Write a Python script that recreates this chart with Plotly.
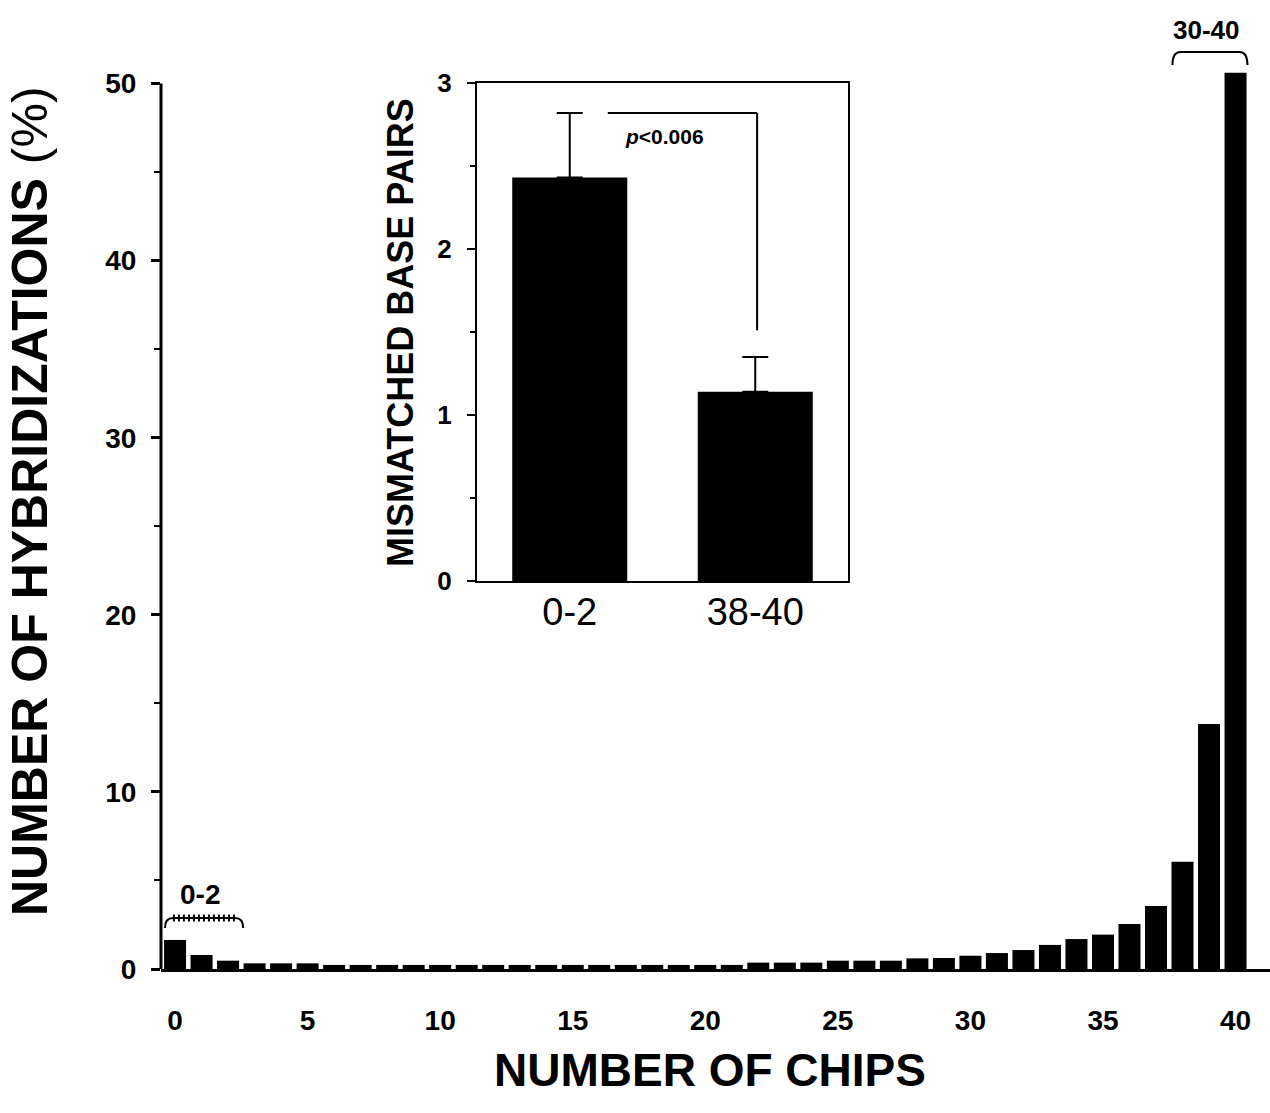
import plotly.graph_objects as go

# ---------------- data ----------------
chips = list(range(41))
hybrid_pct = [1.64, 0.79, 0.47, 0.32, 0.32, 0.32,
              0.23, 0.23, 0.23, 0.23, 0.23, 0.23, 0.23, 0.23,
              0.23, 0.23, 0.23, 0.23, 0.23, 0.23, 0.23, 0.23,
              0.36, 0.36, 0.36, 0.47, 0.47, 0.47, 0.60, 0.62,
              0.75, 0.90, 1.07, 1.36, 1.69, 1.94, 2.54, 3.56,
              6.06, 13.84, 50.6]
x_ticks = [0, 5, 10, 15, 20, 25, 30, 35, 40]
y_ticks = [0, 10, 20, 30, 40, 50]
y_minor = [5, 15, 25, 35, 45]

low_group = [0, 1, 2]
high_group = [38, 39, 40]
low_label = "0-2"
high_label = "30-40"

inset_groups = ["0-2", "38-40"]
mismatch_mean = [2.43, 1.14]
mismatch_err = [0.39, 0.21]
inset_ticks = [0, 1, 2, 3]
inset_minor = [0.5, 1.5, 2.5]
p_text = "<b><i>p</i>&lt;0.006</b>"
bracket_bottom = 1.51

NARROW = "Liberation Sans Narrow, Liberation Sans, Arial"
SANS = "Liberation Sans, Arial, Helvetica"

fig = go.Figure()
fig.add_trace(go.Bar(x=chips, y=hybrid_pct, width=0.83,
                     marker=dict(color="black", line=dict(width=0)),
                     xaxis="x", yaxis="y", hoverinfo="x+y"))
fig.add_trace(go.Bar(x=inset_groups, y=mismatch_mean, width=0.62,
                     marker=dict(color="black", line=dict(width=0)),
                     error_y=dict(type="data", array=mismatch_err,
                                  symmetric=False, color="black", thickness=2, width=13),
                     xaxis="x2", yaxis="y2"))

shapes = []
shapes.append(dict(type="line", xref="paper", yref="y", x0=0, x1=0, y0=0, y1=50,
                   line=dict(color="black", width=3)))

def brace(xa, xb, ytop, ybot, r):
    return f"M {xa},{ybot} Q {xa},{ytop} {xa + r},{ytop} L {xb - r},{ytop} Q {xb},{ytop} {xb},{ybot}"

lx0, lx1 = low_group[0] - 0.38, low_group[-1] + 0.57
shapes.append(dict(type="path", xref="x", yref="y",
                   path=brace(lx0, lx1, 2.88, 2.31, 0.3),
                   line=dict(color="black", width=2)))
shapes.append(dict(type="line", xref="x", yref="y", x0=lx0 + 0.3, x1=lx1 - 0.3, y0=2.88, y1=2.88,
                   line=dict(color="black", width=7, dash="2px,3px")))
hx0, hx1 = high_group[0] - 0.38, high_group[-1] + 0.45
shapes.append(dict(type="path", xref="x", yref="y",
                   path=brace(hx0, hx1, 51.78, 51.04, 0.3),
                   line=dict(color="black", width=2)))

top_y = mismatch_mean[0] + mismatch_err[0]
shapes.append(dict(type="line", xref="x2", yref="y2", x0=0.205, x1=1.01, y0=top_y, y1=top_y,
                   line=dict(color="black", width=2)))
shapes.append(dict(type="line", xref="x2", yref="y2", x0=1.01, x1=1.01, y0=top_y, y1=bracket_bottom,
                   line=dict(color="black", width=2)))

annotations = [
    dict(text="<b>NUMBER OF CHIPS</b>", xref="paper", yref="paper", x=(710 - 161) / 1109,
         y=(969 - 1070) / 969, xanchor="center", yanchor="middle", showarrow=False,
         font=dict(family=SANS, size=46, color="black")),
    dict(text="<b>NUMBER OF HYBRIDIZATIONS</b> (%)", xref="paper", yref="paper",
         x=(30 - 161) / 1109, y=(969 - 501) / 969, textangle=-90,
         xanchor="center", yanchor="middle", showarrow=False,
         font=dict(family=SANS, size=50, color="black")),
    dict(text="<b>MISMATCHED BASE PAIRS</b>", xref="paper", yref="paper",
         x=(400 - 161) / 1109, y=(969 - 333) / 969, textangle=-90,
         xanchor="center", yanchor="middle", showarrow=False,
         font=dict(family=SANS, size=36, color="black")),
    dict(text=f"<b>{low_label}</b>", xref="x", yref="y", x=0.94, y=4.18,
         showarrow=False, font=dict(family=NARROW, size=28, color="black")),
    dict(text=f"<b>{high_label}</b>", xref="x", yref="y", x=38.9, y=53.0,
         showarrow=False, font=dict(family=NARROW, size=26, color="black")),
    dict(text=p_text, xref="x2", yref="y2", x=0.51, y=2.68,
         showarrow=False, font=dict(family=NARROW, size=21, color="black")),
]

fig.update_layout(
    width=1270, height=1113,
    margin=dict(l=161, r=0, t=0, b=144, autoexpand=False),
    paper_bgcolor="white", plot_bgcolor="white",
    showlegend=False,
    shapes=shapes, annotations=annotations,
    xaxis=dict(range=[-0.53, 41.3], tickvals=x_ticks, ticks="", showline=True,
               linewidth=3, linecolor="black", showgrid=False, zeroline=False,
               ticklabelstandoff=24,
               tickfont=dict(family=NARROW, size=28, color="black", weight="bold")),
    yaxis=dict(range=[0, 969 / 17.71], tickvals=y_ticks, ticks="outside", ticklen=9,
               tickwidth=3, tickcolor="black", showline=False, showgrid=False, zeroline=False,
               ticklabelstandoff=9,
               minor=dict(tickvals=y_minor, ticks="outside", ticklen=6, tickwidth=2,
                          tickcolor="black", showgrid=False),
               tickfont=dict(family=NARROW, size=28, color="black", weight="bold")),
    xaxis2=dict(domain=[(477 - 161) / 1109, (848 - 161) / 1109], anchor="y2",
                type="category", range=[-0.5, 1.5], ticks="", showline=True, mirror=True,
                linewidth=2, linecolor="black", showgrid=False, zeroline=False,
                ticklabelstandoff=-4,
                tickfont=dict(family=SANS, size=38, color="black")),
    yaxis2=dict(domain=[(969 - 581) / 969, (969 - 83) / 969], anchor="x2",
                range=[0, 3], tickvals=inset_ticks, ticks="outside", ticklen=8, tickwidth=2,
                tickcolor="black", showline=True, mirror=True, linewidth=2, linecolor="black",
                showgrid=False, zeroline=False, ticklabelstandoff=10,
                minor=dict(tickvals=inset_minor, ticks="outside", ticklen=5, tickwidth=2,
                           tickcolor="black", showgrid=False),
                tickfont=dict(family=NARROW, size=26, color="black", weight="bold")),
)

fig.write_html("out.html", config={"displayModeBar": False},
               post_script="document.body.style.margin='0';")
